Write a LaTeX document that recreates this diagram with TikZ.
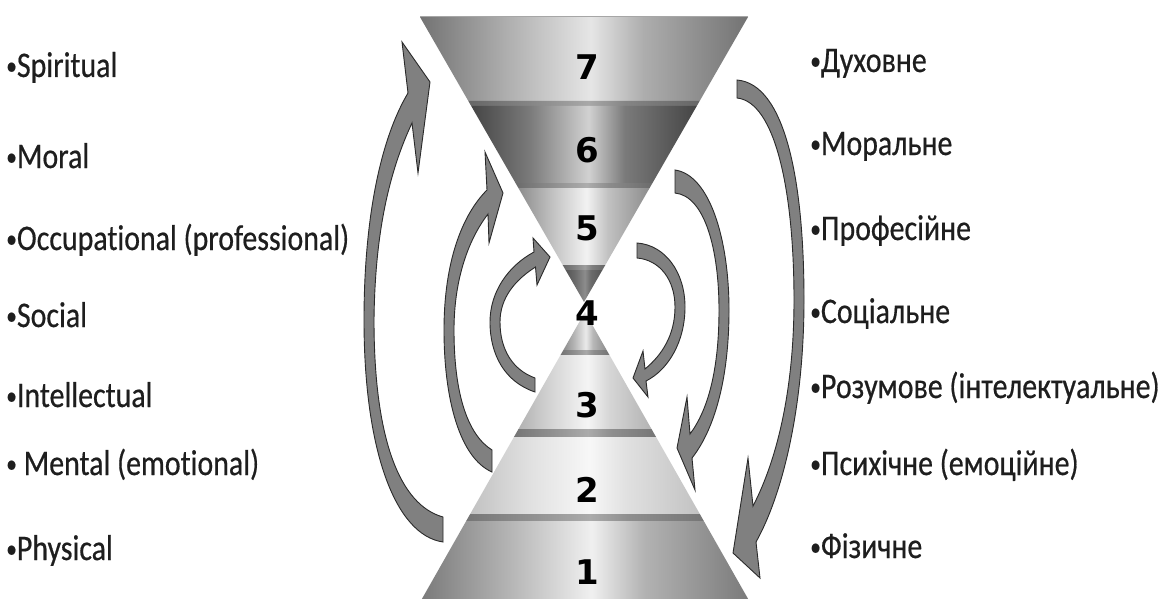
\documentclass[tikz,border=0pt]{standalone}
\usepackage{fontspec}
\newfontfamily\labfont[FakeStretch=0.83, FakeBold=0.5, Ligatures=NoCommon]{Carlito}
\newfontfamily\numfont{DejaVu Sans}
\definecolor{arrgray}{HTML}{808080}
\definecolor{arrline}{HTML}{2A2A2A}
\definecolor{txt}{HTML}{1E1E1E}
\definecolor{hgE}{gray}{0.5}
\definecolor{hgM}{gray}{0.7}
\definecolor{hgL}{gray}{0.9}
\pgfdeclarehorizontalshading[hgE,hgM,hgL]{metal}{100bp}{color(0bp)=(hgE); color(25bp)=(hgE); color(38bp)=(hgM); color(51bp)=(hgL); color(59bp)=(hgM); color(75bp)=(hgE); color(100bp)=(hgE)}
\newcommand{\bul}{\raisebox{2.5pt}{\fontsize{26}{26}\selectfont •}}
% band of the upper (inverted) cone: y1, y2, edge gray, middle gray, light gray
\newcommand{\hgTop}[5]{%
  \definecolor{hgE}{gray}{#3}\definecolor{hgM}{gray}{#4}\definecolor{hgL}{gray}{#5}%
  \pgfmathsetmacro\hxa{420+0.5754*(#1-17)}%
  \pgfmathsetmacro\hxb{748-0.5754*(#1-17)}%
  \pgfmathsetmacro\hxc{748-0.5754*(#2-17)}%
  \pgfmathsetmacro\hxd{420+0.5754*(#2-17)}%
  \shade[shading=metal] (\hxa,#1) -- (\hxb,#1) -- (\hxc,#2) -- (\hxd,#2) -- cycle;}
% band of the lower cone
\newcommand{\hgBot}[5]{%
  \definecolor{hgE}{gray}{#3}\definecolor{hgM}{gray}{#4}\definecolor{hgL}{gray}{#5}%
  \pgfmathsetmacro\hxa{585-0.5684*(#1-312)}%
  \pgfmathsetmacro\hxb{585+0.5684*(#1-312)}%
  \pgfmathsetmacro\hxc{585+0.5684*(#2-312)}%
  \pgfmathsetmacro\hxd{585-0.5684*(#2-312)}%
  \shade[shading=metal] (\hxa,#1) -- (\hxb,#1) -- (\hxc,#2) -- (\hxd,#2) -- cycle;}
\tikzset{
  lab/.style={anchor=base west, inner sep=0pt, text=txt, font=\labfont\fontsize{36}{40}\selectfont},
  num/.style={anchor=center, inner sep=0pt, text=black, font=\numfont\bfseries\fontsize{34}{38}\selectfont},
  arr/.style={fill=arrgray, draw=arrline, line width=0.9pt, line join=miter}
}
\begin{document}
\begin{tikzpicture}[x=1pt,y=-1pt]
\fill[white] (0,0) rectangle (1172,599);
\useasboundingbox (0,0) rectangle (1172,599);
\begin{scope}
\clip (0,0) rectangle (1172,599);
% upper cone
\hgTop{17}{101}{0.45}{0.68}{0.90}
\hgTop{101}{106}{0.40}{0.52}{0.66}
\hgTop{106}{183}{0.27}{0.48}{0.82}
\hgTop{183}{188}{0.42}{0.55}{0.68}
\hgTop{188}{265}{0.55}{0.76}{0.95}
\hgTop{265}{270}{0.40}{0.50}{0.62}
\hgTop{270}{302}{0.33}{0.42}{0.55}
\draw[gray!70, line width=1pt] (420,17) -- (748,17);
% lower cone
\hgBot{312}{350}{0.55}{0.72}{0.92}
\hgBot{350}{355}{0.45}{0.55}{0.66}
\hgBot{355}{429}{0.70}{0.84}{0.96}
\hgBot{429}{437}{0.46}{0.56}{0.67}
\hgBot{437}{514}{0.76}{0.88}{0.97}
\hgBot{514}{521}{0.46}{0.56}{0.67}
\hgBot{521}{600}{0.48}{0.70}{0.94}
\end{scope}
% numbers
\node[num] (n7) at (587,67) {7};
\node[num] (n6) at (587,150) {6};
\node[num] (n5) at (587,228) {5};
\node[num] (n4) at (587,313) {4};
\node[num] (n3) at (587,405) {3};
\node[num] (n2) at (587,490) {2};
\node[num] (n1) at (587,572) {1};
% left arrows (upwards)
\path[arr] (443,542) .. controls (395,535) and (364,450) .. (364,320) .. controls (364,220) and (380,140) .. (408,93) -- (402,42) -- (430,82) -- (418,173) -- (412,123) .. controls (390,170) and (375,230) .. (374,320) .. controls (374,440) and (400,505) .. (443,517) -- cycle;
\path[arr] (492,472) .. controls (460,458) and (444,400) .. (444,330) .. controls (444,262) and (462,215) .. (487,190) -- (485,152) -- (503,193) -- (489,243) -- (488,214) .. controls (468,240) and (454,280) .. (454,330) .. controls (454,395) and (468,435) .. (492,450) -- cycle;
\path[arr] (535,392) .. controls (505,382) and (490,355) .. (490,322) .. controls (490,292) and (508,266) .. (534,252) -- (533,238) -- (550,257) -- (537,285) -- (535.5,267) .. controls (515,280) and (500,298) .. (500,322) .. controls (500,350) and (513,370) .. (535,378) -- cycle;
% right arrows (downwards)
\path[arr] (737,80) .. controls (785,84) and (804,180) .. (804,300) .. controls (804,400) and (785,490) .. (756,542) -- (760,578) -- (733,553) -- (748,458) -- (753,506) .. controls (777,460) and (794,390) .. (794,300) .. controls (794,190) and (775,102) .. (737,98) -- cycle;
\path[arr] (675,170) .. controls (710,175) and (729,240) .. (729,310) .. controls (729,380) and (714,430) .. (692,458) -- (695,490) -- (677,448) -- (687,397) -- (690,434) .. controls (708,410) and (719,370) .. (719,310) .. controls (719,250) and (705,196) .. (675,193) -- cycle;
\path[arr] (637,243) .. controls (665,245) and (685,272) .. (685,307) .. controls (685,342) and (668,370) .. (646,381) -- (648,397) -- (633,378) -- (643,351) -- (645,369) .. controls (662,355) and (675,335) .. (675,307) .. controls (675,280) and (660,260) .. (637,258) -- cycle;
% left labels
\node[lab] (l7) at (6,77) {\bul Spiritual};
\node[lab] (l6) at (6,168) {\bul Moral};
\node[lab] (l5) at (6,250) {\bul Occupational (professional)};
\node[lab] (l4) at (6,327) {\bul Social};
\node[lab] (l3) at (6,407) {\bul Intellectual};
\node[lab] (l2) at (6,475) {\bul\ Mental (emotional)};
\node[lab] (l1) at (6,560) {\bul Physical};
% right labels
\node[lab] (r7) at (810,72) {\bul Духовне};
\node[lab] (r6) at (810,155) {\bul Моральне};
\node[lab] (r5) at (810,240) {\bul Професійне};
\node[lab] (r4) at (810,323) {\bul Соціальне};
\node[lab] (r3) at (810,398) {\bul Розумове (інтелектуальне)};
\node[lab] (r2) at (810,475) {\bul Психічне (емоційне)};
\node[lab] (r1) at (810,558) {\bul Фізичне};
\end{tikzpicture}
\end{document}
